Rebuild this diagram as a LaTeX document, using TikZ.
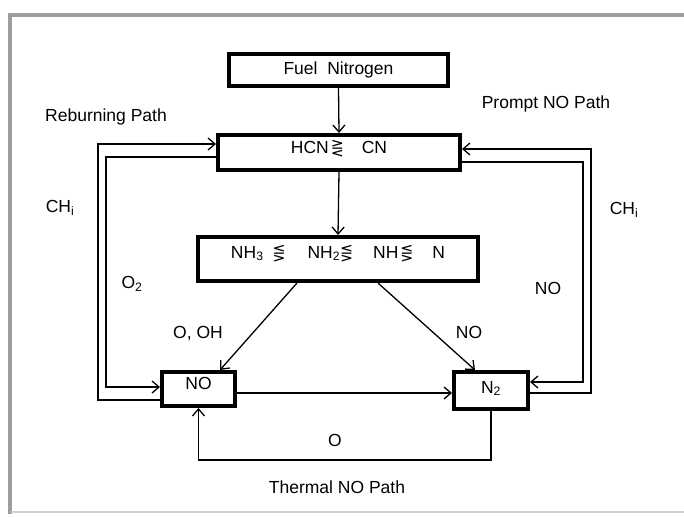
\documentclass[tikz,border=0pt]{standalone}
\usepackage{fontspec}
\setmainfont{Liberation Sans}
\newfontfamily\symfnt{DejaVu Sans}
\usetikzlibrary{arrows.meta}
\newcommand{\eqgl}{{\symfnt\fontsize{15.5}{15.5}\selectfont ⋛}}
\newcommand{\eqlg}{{\symfnt\fontsize{15.5}{15.5}\selectfont ⋚}}
\begin{document}
\begin{tikzpicture}[x=1pt,y=-1pt,
  txt/.style={font=\fontsize{17.5}{19}\selectfont},
  box/.style={draw, line width=4pt, inner sep=0pt, txt, text height=12.5pt},
  lbl/.style={inner sep=0pt, txt},
  conn/.style={line width=1.3pt},
  arr/.style={conn, -{Straight Barb[length=7pt,width=12pt]}},
  frame/.style={draw=black!38, line width=4pt}]
\useasboundingbox (0,0) rectangle (684,516);
% frame
\draw[frame] (9.5,514) -- (9.5,15) -- (684,15);
\draw[black!18, line width=1.5pt] (11,512) -- (684,512);
% boxes
\node[box, minimum width=219pt, minimum height=32pt, text depth=3pt] (fuel) at (338.5,70) {Fuel\ \ Nitrogen};
\node[box, minimum width=242pt, minimum height=35pt, text depth=11pt] (hcn) at (339,152.5) {HCN\hspace{2pt}\eqgl\hspace{18pt}CN};
\node[box, minimum width=280pt, minimum height=44pt, text depth=14pt] (nh) at (338,259) {NH\textsubscript{3}\hspace{9pt}\eqlg\hspace{22pt}NH\textsubscript{2}\eqlg\hspace{20pt}NH\hspace{2pt}\eqlg\hspace{19pt}N};
\node[box, minimum width=73pt, minimum height=34pt, text depth=12pt] (no) at (198.5,389) {NO};
\node[box, minimum width=74pt, minimum height=37pt, text depth=7pt] (n2) at (491,390.5) {N\textsubscript{2}};
% vertical chain
\draw[arr] (fuel.south) -- (hcn.north);
\draw[arr] (hcn.south) -- (nh.north);
% diagonals
\draw[arr] ([xshift=-41pt]nh.south) -- ([xshift=21.5pt]no.north);
\draw[arr] ([xshift=40pt]nh.south) -- ([xshift=-16pt]n2.north);
% NO -> N2
\draw[arr] (no.east |- 0,393) -- (n2.west |- 0,393);
% thermal loop
\coordinate (tr) at (n2.south |- 0,460);
\coordinate (tl) at (no.south |- 0,460);
\draw[arr] (n2.south) -- (tr) -- (tl) -- (no.south);
% reburning path (left)
\coordinate (lo1) at (98,400);
\coordinate (lo2) at (98,144);
\draw[arr] (no.west |- lo1) -- (lo1) -- (lo2) -- (hcn.west |- lo2);
\coordinate (li1) at (106,157);
\coordinate (li2) at (106,387);
\draw[arr] (hcn.west |- li1) -- (li1) -- (li2) -- (no.west |- li2);
% prompt path (right)
\coordinate (ro1) at (591,393);
\coordinate (ro2) at (591,149);
\draw[arr] (n2.east |- ro1) -- (ro1) -- (ro2) -- (hcn.east |- ro2);
\coordinate (ri1) at (583,162);
\coordinate (ri2) at (583,382);
\draw[arr] (hcn.east |- ri1) -- (ri1) -- (ri2) -- (n2.east |- ri2);
% labels
\node[lbl] (lreb) at (106,117) {Reburning Path};
\node[lbl] (lprompt) at (546,104) {Prompt NO Path};
\node[lbl] (lchl) at (60,208) {CH\textsubscript{i}};
\node[lbl] (lchr) at (624,210) {CH\textsubscript{i}};
\node[lbl] (lo2lbl) at (132,284) {O\textsubscript{2}};
\node[lbl] (lnor) at (548,288) {NO};
\node[lbl] (looh) at (198,334) {O, OH};
\node[lbl] (lnod) at (469,332) {NO};
\node[lbl] (lo) at (335,440) {O};
\node[lbl] (lthermal) at (337,487) {Thermal NO Path};
\end{tikzpicture}
\end{document}
